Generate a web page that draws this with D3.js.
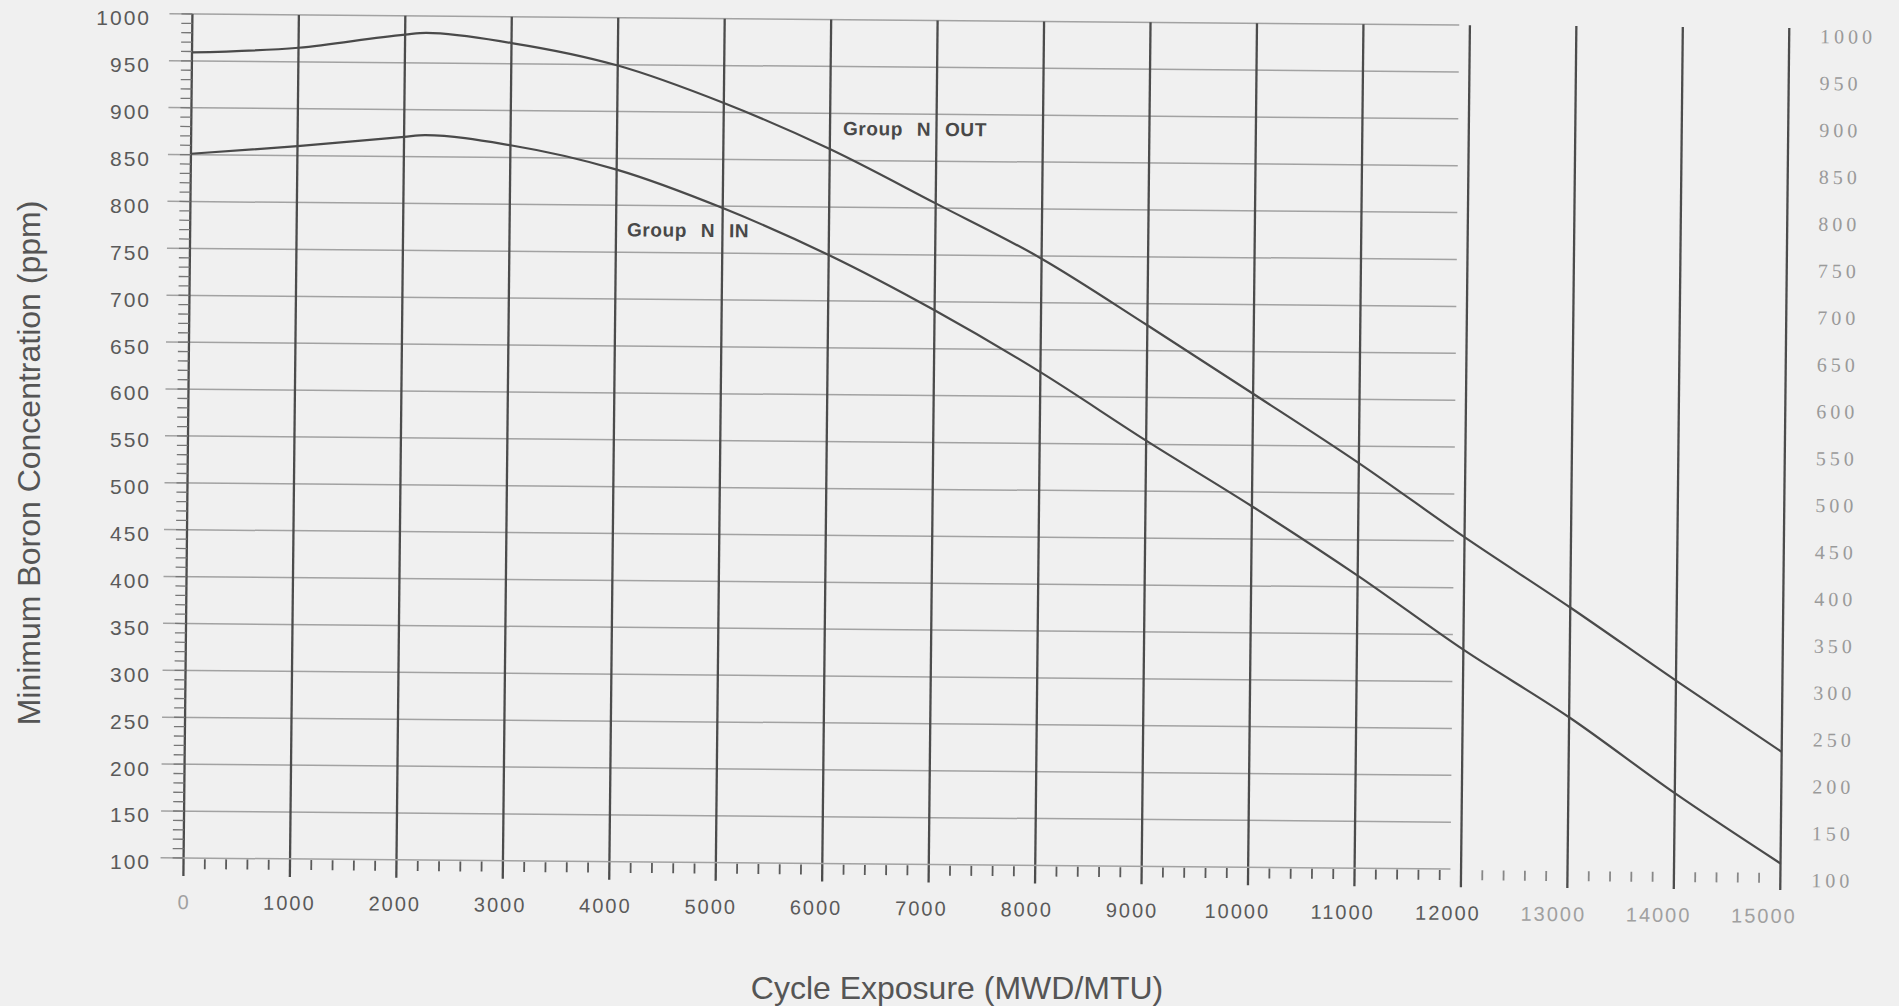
<!DOCTYPE html>
<html>
<head>
<meta charset="utf-8">
<script src="https://cdn.jsdelivr.net/npm/d3@7"></script>
<style>
  body { margin: 0; background: #f0f0f0; }
  svg { display: block; font-family: 'Liberation Sans', Arial, sans-serif; }
</style>
</head>
<body>
<div class="chartWrap"></div>
<script>
// values
var exposure = [0, 1000, 2000, 2200, 3000, 4000, 5000, 6000, 7000, 8000, 9000, 10000, 11000, 12000, 13000, 14000, 15000];
var groupOut = [959, 965, 980, 982, 972, 949, 910, 862, 805, 747, 677, 605, 532, 454, 380, 303, 228];
var groupIn  = [851, 860, 871, 873, 863, 838, 798, 749, 691, 626, 554, 485, 412, 334, 263, 183, 109];
var seriesNames = ['Group N OUT', 'Group N IN'];
var xTicks = [0, 1000, 2000, 3000, 4000, 5000, 6000, 7000, 8000, 9000, 10000, 11000, 12000, 13000, 14000, 15000];
var yTicks = [100, 150, 200, 250, 300, 350, 400, 450, 500, 550, 600, 650, 700, 750, 800, 850, 900, 950, 1000];
var xTitle = 'Cycle Exposure (MWD/MTU)';
var yTitle = 'Minimum Boron Concentration (ppm)';

boronChart = {

  init: function(){
    self = this;
    self.width = 1899;
    self.height = 1006;
    self.ink = '#4c4c4c';
    self.gridInk = '#a2a2a2';

    self.x = d3.scaleLinear().domain([0, 15000]).range([188, 1785]);
    self.y = d3.scaleLinear().domain([100, 1000]).range([858, 14]);
    // tick labels under the axis drift a little left of their lines on the scan
    self.xLabel = d3.scaleLinear().domain([0, 15000]).range([189, 1769]);

    self.svg = d3.select('.chartWrap')
      .append('svg')
      .attr('width', self.width)
      .attr('height', self.height);

    // the photocopy is slightly skewed, so the plot gets the same tilt
    self.plot = self.svg.append('g')
      .attr('transform', 'translate(188,436) skewX(-0.6) skewY(0.5) translate(-188,-436)');

    self.drawGrid();
    self.drawAxes();
    self.drawCurves();
    self.drawTitles();
  },

  drawGrid: function(){
    var gridEnd = self.x(11900);

    self.plot.append('g').selectAll('line')
      .data(yTicks.filter(function(d){ return d > 100; }))
      .enter()
        .append('line')
        .attr('x1', self.x(0) - 23)
        .attr('x2', gridEnd)
        .attr('y1', function(d){ return self.y(d); })
        .attr('y2', function(d){ return self.y(d); })
        .style('stroke', self.gridInk)
        .style('stroke-width', 1.5);

    self.plot.append('g').selectAll('line')
      .data(xTicks)
      .enter()
        .append('line')
        .attr('x1', function(d){ return self.x(d); })
        .attr('x2', function(d){ return self.x(d); })
        .attr('y1', self.y(1000))
        .attr('y2', self.y(100) + 18)
        .style('stroke', self.ink)
        .style('stroke-width', 2.3);
  },

  drawAxes: function(){
    var base = self.y(100);

    // baseline row
    self.plot.append('line')
      .attr('x1', self.x(0) - 23)
      .attr('x2', self.x(11900))
      .attr('y1', base)
      .attr('y2', base)
      .style('stroke', self.gridInk)
      .style('stroke-width', 1.5);

    // minor ticks on the left axis, every 10 ppm
    self.plot.append('g').selectAll('line')
      .data(d3.range(100, 1001, 10))
      .enter()
        .append('line')
        .attr('x1', self.x(0) - 11)
        .attr('x2', self.x(0))
        .attr('y1', function(d){ return self.y(d); })
        .attr('y2', function(d){ return self.y(d); })
        .style('stroke', '#777')
        .style('stroke-width', 1.3);

    // small ticks under the baseline, every 200 MWD/MTU
    self.plot.append('g').selectAll('line')
      .data(d3.range(200, 15000, 200).filter(function(d){ return d % 1000 !== 0; }))
      .enter()
        .append('line')
        .attr('x1', function(d){ return self.x(d); })
        .attr('x2', function(d){ return self.x(d); })
        .attr('y1', base + 1)
        .attr('y2', base + 11)
        .style('stroke', function(d){ return d > 12000 ? '#888' : '#5a5a5a'; })
        .style('stroke-width', 1.8);

    // left tick labels
    self.svg.append('g').selectAll('text')
      .data(yTicks)
      .enter()
        .append('text')
        .text(function(d){ return d; })
        .attr('x', 151)
        .attr('y', function(d){ return self.y(d) + 4; })
        .attr('dy', '0.35em')
        .attr('text-anchor', 'end')
        .style('font-size', '21px')
        .style('letter-spacing', '2px')
        .style('fill', '#5a5a5a');

    // right tick labels (faint serif print)
    self.plot.append('g').selectAll('text')
      .data(yTicks)
      .enter()
        .append('text')
        .text(function(d){ return d; })
        .attr('x', self.x(15000) + 31)
        .attr('y', function(d){ return self.y(d) + 8; })
        .attr('dy', '0.35em')
        .style('font-family', "'Liberation Serif', 'Times New Roman', serif")
        .style('font-size', '20px')
        .style('letter-spacing', '4px')
        .style('fill', '#9a9a9a');

    // bottom tick labels
    self.plot.append('g').selectAll('text')
      .data(xTicks)
      .enter()
        .append('text')
        .text(function(d){ return d; })
        .attr('x', function(d){ return self.xLabel(d); })
        .attr('y', base + 44)
        .attr('dy', '0.35em')
        .attr('text-anchor', 'middle')
        .style('font-size', '20px')
        .style('letter-spacing', '2px')
        .style('fill', function(d){ return (d === 0 || d >= 13000) ? '#a0a0a0' : '#5a5a5a'; });
  },

  drawCurves: function(){
    var line = d3.line()
      .x(function(d){ return self.x(d[0]); })
      .y(function(d){ return self.y(d[1]); })
      .curve(d3.curveMonotoneX);

    var series = [d3.zip(exposure, groupOut), d3.zip(exposure, groupIn)];

    self.plot.append('g').selectAll('path')
      .data(series)
      .enter()
        .append('path')
        .attr('d', line)
        .style('fill', 'none')
        .style('stroke', '#4a4a4a')
        .style('stroke-width', 2.2);

    // curve labels, anchored in data space
    var anchors = [[6122, 877], [4103, 767]];
    self.plot.append('g').selectAll('text')
      .data(seriesNames)
      .enter()
        .append('text')
        .text(function(d){ return d; })
        .attr('x', function(d, i){ return self.x(anchors[i][0]); })
        .attr('y', function(d, i){ return self.y(anchors[i][1]); })
        .style('font-size', '19px')
        .style('font-weight', 'bold')
        .style('word-spacing', '8px')
        .style('letter-spacing', '0.6px')
        .style('fill', '#484848');
  },

  drawTitles: function(){
    self.svg.append('text')
      .text(xTitle)
      .attr('x', 957)
      .attr('y', 999)
      .attr('text-anchor', 'middle')
      .style('font-size', '32px')
      .style('fill', '#555');

    self.svg.append('text')
      .text(yTitle)
      .attr('transform', 'translate(40,463) rotate(-90)')
      .attr('text-anchor', 'middle')
      .style('font-size', '32px')
      .style('fill', '#555');
  }

};

boronChart.init();
</script>
</body>
</html>
